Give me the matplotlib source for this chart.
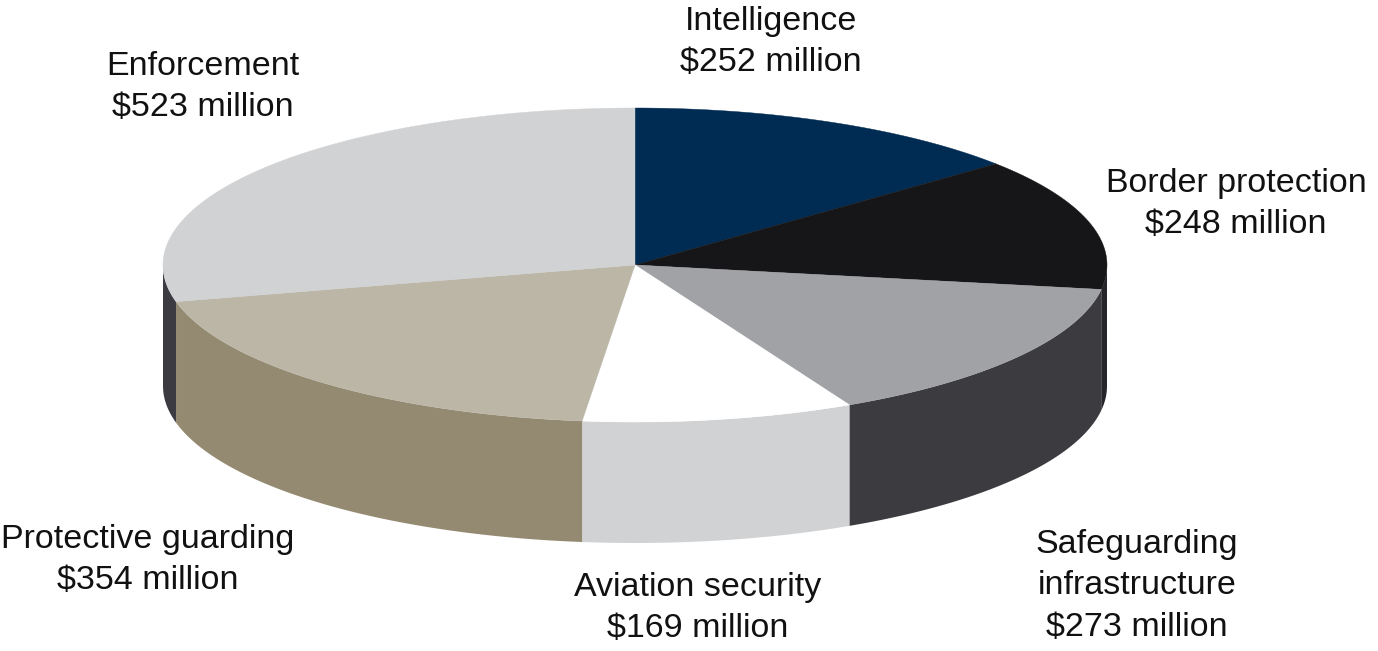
import numpy as np
import matplotlib.pyplot as plt

# data (clockwise from 12 o'clock)
categories = ["Intelligence", "Border protection", "Safeguarding\ninfrastructure",
              "Aviation security", "Protective guarding", "Enforcement"]
values = [252, 248, 273, 169, 354, 523]
top_colors = ["#002b52", "#161618", "#a1a2a6", "#ffffff", "#bbb6a6", "#d1d2d4"]
side_colors = ["#1a2f4a", "#26262a", "#3c3b40", "#d1d2d4", "#948a71", "#3c3b42"]
label_pos = [(771, 42), (1236, 204), (1137, 586), (698, 608), (148, 560), (203, 87)]

# ellipse geometry (pixels, y down)
cx, cy, rx, ry, depth = 635, 265, 472, 157, 121


def rim(t, dy=0.0):
    return cx + rx * np.sin(t), cy - ry * np.cos(t) + dy


fig = plt.figure(figsize=(13.78, 6.51), dpi=100)
ax = fig.add_axes([0, 0, 1, 1])
ax.set_xlim(0, 1378)
ax.set_ylim(651, 0)
ax.axis("off")

bounds = np.concatenate([[0], np.cumsum(values)]) / sum(values) * 2 * np.pi

# side walls (front half only)
for i in range(len(values)):
    a, b = max(bounds[i], np.pi / 2), min(bounds[i + 1], 3 * np.pi / 2)
    if b <= a:
        continue
    t = np.linspace(a, b, 200)
    xt, yt = rim(t)
    xb, yb = rim(t[::-1], depth)
    ax.fill(np.concatenate([xt, xb]), np.concatenate([yt, yb]),
            color=side_colors[i], lw=0, antialiased=True)

# top face
for i in range(len(values)):
    t = np.linspace(bounds[i], bounds[i + 1], 300)
    xt, yt = rim(t)
    ax.fill(np.concatenate([[cx], xt]), np.concatenate([[cy], yt]),
            color=top_colors[i], lw=0.3, ec=top_colors[i])

for name, v, (x, y) in zip(categories, values, label_pos):
    ax.text(x, y, f"{name}\n${v} million", ha="center", va="center",
            fontsize=24.5, family="Liberation Sans", color="#111111",
            linespacing=1.45)

fig.savefig("out.png", dpi=100)
